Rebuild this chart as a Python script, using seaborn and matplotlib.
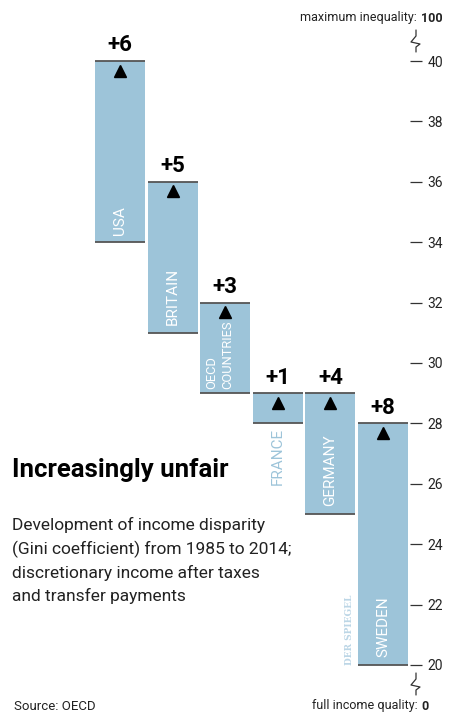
import matplotlib
matplotlib.use("Agg")
import matplotlib.pyplot as plt
import seaborn as sns
import pandas as pd
from matplotlib.lines import Line2D

# ---- data ----
countries = ["USA", "BRITAIN", "OECD\nCOUNTRIES", "FRANCE", "GERMANY", "SWEDEN"]
gini_1985 = [34, 31, 29, 28, 25, 20]
gini_2014 = [40, 36, 32, 29, 29, 28]
change_labels = ["+6", "+5", "+3", "+1", "+4", "+8"]
y_ticks = [20, 22, 24, 26, 28, 30, 32, 34, 36, 38, 40]

BAR = "#9dc4d9"
EDGE = "#555555"
W, H = 449, 715
FONT = ["Roboto", "DejaVu Sans"]

sns.set_theme(style="white")
plt.rcParams["font.family"] = FONT

fig = plt.figure(figsize=(W / 100, H / 100), dpi=100)
ax = fig.add_axes([0, 0, 416 / W, 1])

df = pd.DataFrame({"country": countries, "start": gini_1985, "end": gini_2014})
df["height"] = df["end"] - df["start"]

sns.barplot(data=df, x="country", y="height", color=BAR, saturation=1,
            width=0.95, edgecolor="none", errorbar=None, ax=ax)

for i, (patch, s, e) in enumerate(zip(ax.patches, df["start"], df["end"])):
    patch.set_y(s)
    patch.set_height(e - s)
    x0, w = patch.get_x(), patch.get_width()
    ax.plot([x0, x0 + w], [e, e], color=EDGE, lw=1.3, solid_capstyle="butt")
    ax.plot([x0, x0 + w], [s, s], color=EDGE, lw=1.3, solid_capstyle="butt")
    ax.plot(i, e - 0.32, marker="^", ms=9, color="black", ls="none")
    ax.text(i, e + 0.15, change_labels[i], ha="center", va="bottom",
            fontsize=16, fontweight="bold", color="black")
    name = countries[i]
    if e - s < 2:
        ax.text(i, s - 0.15, name, rotation=90, ha="center", va="top",
                color=BAR, fontsize=11)
    elif "\n" in name:
        ax.text(i - 0.1, s + 0.15, name, rotation=90, ha="center", va="bottom",
                color="white", fontsize=9.3, multialignment="left",
                linespacing=1.35)
    else:
        ax.text(i, s + 0.25, name, rotation=90, ha="center", va="bottom",
                color="white", fontsize=11)

# DER SPIEGEL mark
ax.text(4.37, 20.0, "DER SPIEGEL", rotation=90, ha="center", va="bottom",
        color="#bcd6e6", fontsize=6.5, fontweight="bold", family="DejaVu Serif")

ax.set_xlim(-2.281, 5.627)
ax.set_ylim(18.344, 42.02)
ax.set_xlabel("")
ax.set_ylabel("")
ax.set_xticks([])
ax.set_yticks(y_ticks)
ax.yaxis.tick_right()
ax.tick_params(axis="y", direction="inout", length=9, width=0.9,
               color="#333333", pad=4, labelsize=10, labelcolor="#222222",
               right=True, left=False)
for sp in ax.spines.values():
    sp.set_visible(False)
ax.patch.set_alpha(0)


def px(x, y):
    return x / W, 1 - y / H


def zigzag(cy):
    pts = [(416, cy - 11), (416, cy - 5), (411, cy + 1), (420, cy + 3),
           (416, cy + 6), (416, cy + 11)]
    xs = [p[0] / W for p in pts]
    ys = [1 - p[1] / H for p in pts]
    fig.add_artist(Line2D(xs, ys, color="#333333", lw=0.9, transform=fig.transFigure))


zigzag(41)
zigzag(684)

renderer = fig.canvas.get_renderer()


def pair(x_right, y, regular, bold, size):
    tb = fig.text(*px(x_right, y), bold, ha="right", va="center", fontsize=size,
                  fontweight="bold", color="#222222")
    bb = tb.get_window_extent(renderer)
    fig.text(bb.x0 / W - 1 / W, 1 - y / H, regular, ha="right", va="center",
             fontsize=size, color="#222222")


pair(443, 18, "maximum inequality: ", "100", 9)
pair(429, 706, "full income quality: ", "0", 9)

fig.text(*px(14, 706), "Source: OECD", ha="left", va="center", fontsize=9.5,
         color="#222222")

fig.text(*px(12, 477), "Increasingly unfair", ha="left", va="baseline",
         fontsize=18.5, fontweight="bold", color="black")
fig.text(*px(12, 517),
         "Development of income disparity\n(Gini coefficient) from 1985 to 2014;\n"
         "discretionary income after taxes\nand transfer payments",
         ha="left", va="top", fontsize=12.5, linespacing=1.55, color="#222222")

fig.savefig("out.png", dpi=100)
